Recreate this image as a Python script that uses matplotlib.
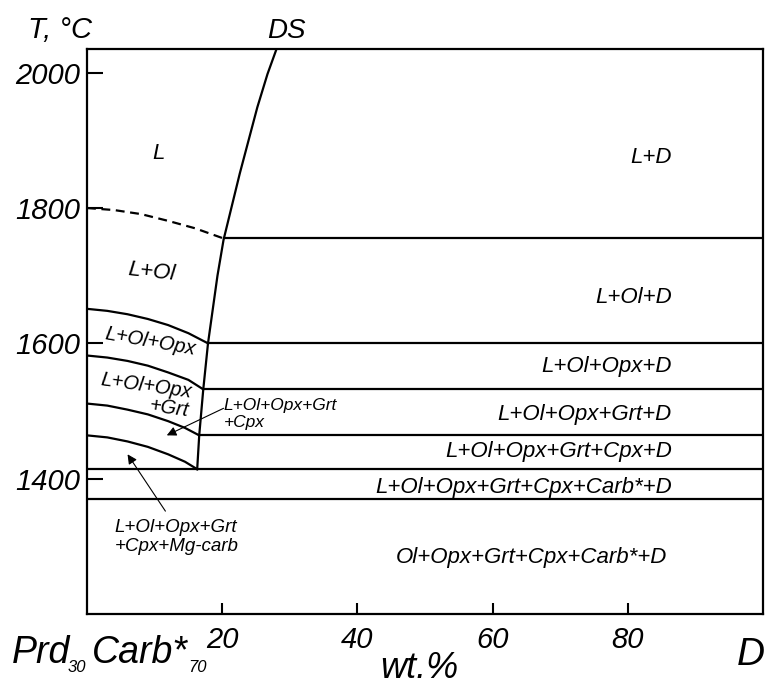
import matplotlib.pyplot as plt

plt.rcParams['font.family'] = ['Liberation Sans', 'DejaVu Sans']
plt.rcParams['font.style'] = 'italic'

# solidus of diamond (DS), wt.% D vs T
ds_x = [16.3, 16.6, 17.2, 17.9, 18.6, 19.3, 20.2, 21.4, 22.6, 23.9, 25.2, 26.7, 28.0]
ds_T = [1414, 1464, 1532, 1600, 1650, 1700, 1753, 1802, 1851, 1900, 1949, 1998, 2034]

# dashed liquidus of olivine
liq_x = [0, 4, 8, 12, 16, 20.2]
liq_T = [1800, 1797, 1791, 1781, 1770, 1755]

# boundaries left of DS
left_x = [[0, 3, 6, 9, 12, 15, 17.9],
          [0, 3, 6, 9, 12, 15, 17.2],
          [0, 3, 6, 9, 12, 14.5, 16.6],
          [0, 3, 6, 9, 12, 14.5, 16.3]]
left_T = [[1651, 1648, 1643, 1636, 1627, 1615, 1600],
          [1582, 1579, 1574, 1567, 1557, 1546, 1532],
          [1511, 1508, 1502, 1495, 1485, 1475, 1464],
          [1464, 1461, 1455, 1447, 1436, 1425, 1414]]

# isotherms right of DS
iso_start = [20.2, 17.9, 17.2, 16.6, 0, 0]
iso_T = [1755, 1600, 1532, 1464, 1414, 1370]

right_labels = ['L+D', 'L+Ol+D', 'L+Ol+Opx+D', 'L+Ol+Opx+Grt+D',
                'L+Ol+Opx+Grt+Cpx+D', 'L+Ol+Opx+Grt+Cpx+Carb*+D',
                'Ol+Opx+Grt+Cpx+Carb*+D']
right_T = [1867, 1659, 1558, 1486, 1432, 1379, 1275]
right_x = [86.5, 86.5, 86.5, 86.5, 86.5, 86.5, 85.8]

xticks = [20, 40, 60, 80]
yticks = [1400, 1600, 1800, 2000]

W, H = 766, 685
fig = plt.figure(figsize=(W / 100, H / 100), dpi=100)
ax = fig.add_axes([87 / W, 1 - 614 / H, (763 - 87) / W, (614 - 49) / H])
ax.set_xlim(0, 100)
ax.set_ylim(1200, 2035)

lw = 1.6
ax.plot(ds_x, ds_T, color='k', lw=lw, clip_on=False)
ax.plot(liq_x, liq_T, color='k', lw=lw, dashes=(4, 2.5))
for xs, ts in zip(left_x, left_T):
    ax.plot(xs, ts, color='k', lw=lw)
for x0, t in zip(iso_start, iso_T):
    ax.plot([x0, 100], [t, t], color='k', lw=lw)

for lab, x, t in zip(right_labels, right_x, right_T):
    ax.text(x, t, lab, ha='right', va='baseline', fontsize=16)

ax.text(10.6, 1873, 'L', ha='center', va='baseline', fontsize=16)
ax.text(9.5, 1705, 'L+Ol', ha='center', va='center', fontsize=16, rotation=-6)
ax.text(9.4, 1603, 'L+Ol+Opx', ha='center', va='center', fontsize=14.5, rotation=-10)
ax.text(8.6, 1523, 'L+Ol+Opx\n+Grt', ha='center', va='center', fontsize=14.5,
        rotation=-8, multialignment='right', linespacing=1.0)

# baseline given for the last line of each two-line note
ax.text(20.2, 1477, 'L+Ol+Opx+Grt\n+Cpx', ha='left', va='baseline', fontsize=12.5,
        linespacing=1.1)
ax.annotate('', xy=(11.8, 1464), xytext=(20.2, 1504),
            arrowprops=dict(arrowstyle='-|>', lw=0.8, color='k',
                            mutation_scale=14, shrinkA=0, shrinkB=0))
ax.text(4.1, 1293, 'L+Ol+Opx+Grt\n+Cpx+Mg-carb', ha='left', va='baseline',
        fontsize=13.5, linespacing=1.15)
ax.annotate('', xy=(6.0, 1436), xytext=(11.6, 1352),
            arrowprops=dict(arrowstyle='-|>', lw=0.8, color='k',
                            mutation_scale=14, shrinkA=0, shrinkB=0))

ax.set_xticks(xticks)
ax.set_yticks(yticks)
ax.tick_params(axis='both', direction='in', width=1.5, labelsize=21)
ax.tick_params(axis='x', length=8, pad=9)
ax.tick_params(axis='y', length=11.5, pad=5)
for s in ax.spines.values():
    s.set_linewidth(1.6)

def ftext(x, y, s, **kw):
    fig.text(x / W, 1 - y / H, s, va='baseline', **kw)

ftext(28, 38, 'T, °C', fontsize=21)
ftext(286, 38, 'DS', fontsize=20, ha='center')
ftext(12, 663, 'Prd', fontsize=27)
ftext(68, 672, '30', fontsize=12)
ftext(92, 663, 'Carb*', fontsize=27)
ftext(188, 672, '70', fontsize=12)
ftext(419, 678, 'wt.%', fontsize=26, ha='center')
ftext(765, 665, 'D', fontsize=28, ha='right')

fig.savefig('out.png', dpi=100)
